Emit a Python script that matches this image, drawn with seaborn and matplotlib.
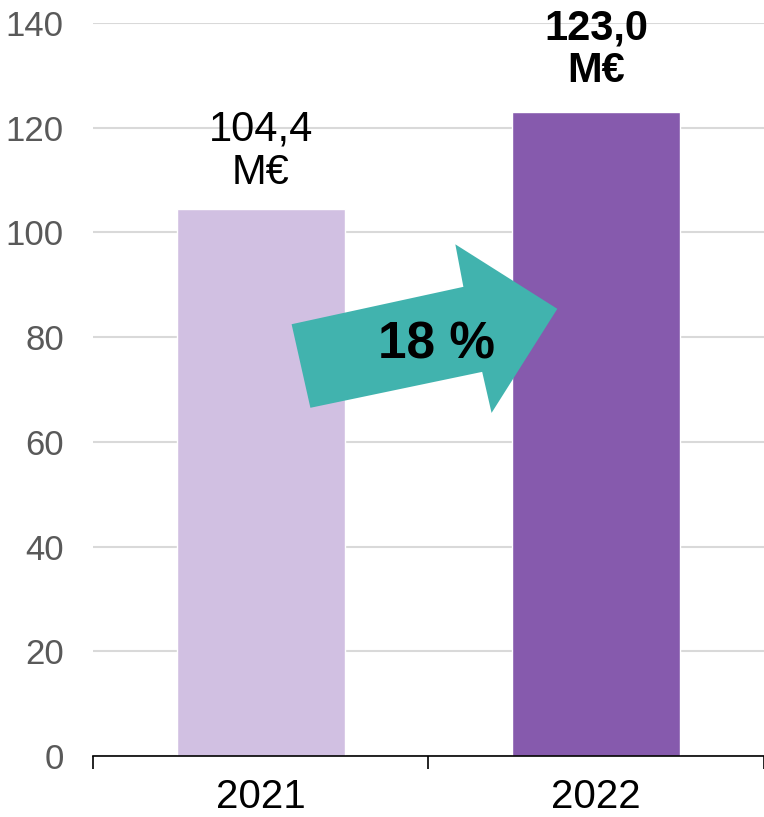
import matplotlib.pyplot as plt
import seaborn as sns
import pandas as pd
from matplotlib.patches import Polygon
from matplotlib.ticker import FixedLocator

# --- dados ---
anos = ['2021', '2022']
valores = [104.4, 123.0]
rotulos = ['104,4\nM€', '123,0\nM€']
cores = ['#D1C0E2', '#865AAD']
variacao = '18 %'

df = pd.DataFrame({'ano': anos, 'valor': valores})

sns.set_theme(style="whitegrid")
plt.rcParams['font.family'] = ['Liberation Sans', 'DejaVu Sans']

fig = plt.figure(figsize=(7.64, 8.17), dpi=100)
ax = fig.add_axes([0.1217, 0.0747, 0.8783, 0.8972])

sns.barplot(data=df, x='ano', y='valor', hue='ano', palette=cores,
            width=0.5, saturation=1, legend=False, ax=ax, zorder=2)

ax.set_xlim(-0.5, 1.5)
ax.set_ylim(0, 140)
ax.set_yticks(range(0, 141, 20))
ax.set_xlabel('')
ax.set_ylabel('')

# grade e eixos
ax.set_facecolor('white')
ax.grid(axis='y', color='#D9D9D9', linewidth=1.5, zorder=0)
ax.grid(axis='x', visible=False)
for lado in ['left', 'right', 'top']:
    ax.spines[lado].set_visible(False)
ax.spines['bottom'].set_color('black')
ax.spines['bottom'].set_linewidth(1.2)
ax.spines['bottom'].set_zorder(3)

ax.tick_params(axis='y', length=0, pad=21, labelsize=25, labelcolor='#595959')
ax.tick_params(axis='x', which='major', length=0, pad=16, labelsize=29, labelcolor='black')
ax.xaxis.set_minor_locator(FixedLocator([-0.5, 0.5, 1.5]))
ax.tick_params(axis='x', which='minor', length=9, width=1.2, color='black', direction='out', bottom=True)

# rótulos das barras
pesos = ['normal', 'bold']
afast = [12, 15]
for i, (v, txt) in enumerate(zip(valores, rotulos)):
    ax.annotate(txt, xy=(i, v), xytext=(0, afast[i]), textcoords='offset points',
                ha='center', va='bottom', fontsize=30, fontweight=pesos[i],
                linespacing=1.1, color='black', annotation_clip=False, zorder=5)

# seta de variação (forma decorativa, em fração dos eixos)
seta = [(0.296, 0.589), (0.552, 0.640), (0.540, 0.698), (0.692, 0.610),
        (0.594, 0.468), (0.580, 0.524), (0.324, 0.475)]
ax.add_patch(Polygon(seta, closed=True, transform=ax.transAxes,
                     facecolor='#41B3AE', edgecolor='none', zorder=4))
ax.text(0.512, 0.56, variacao, transform=ax.transAxes, ha='center', va='center',
        fontsize=37, fontweight='bold', color='black', zorder=6)

fig.savefig('out.png', dpi=100)
